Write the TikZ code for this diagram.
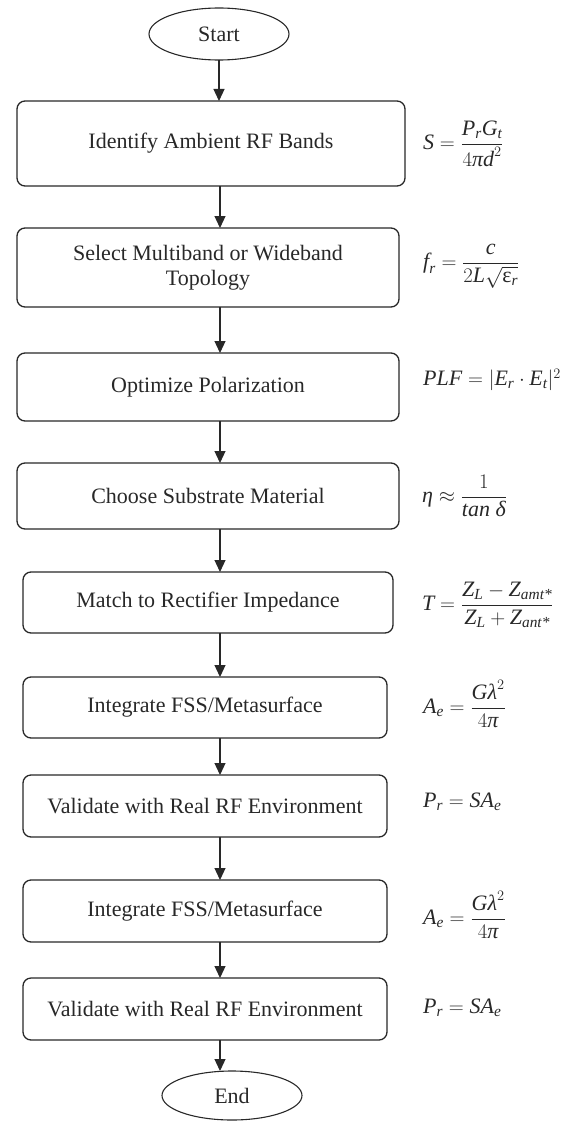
\documentclass[tikz,border=0pt]{standalone}
\usepackage{amsmath}
\usepackage{fontspec}
\setmainfont{Liberation Serif}
\usetikzlibrary{arrows.meta,shapes.geometric}
\definecolor{ink}{RGB}{40,40,40}
\newcommand{\vi}[1]{\textit{#1}}
\tikzset{
  stepbox/.style={draw=ink, line width=1.3pt, rounded corners=8pt, inner sep=0pt, outer sep=0pt,
    font=\fontsize{22}{25}\selectfont, text=ink, align=center},
  term/.style={draw=ink, line width=1.1pt, ellipse, inner sep=0pt, outer sep=0pt,
    font=\fontsize{22}{25}\selectfont, text=ink},
  formula/.style={anchor=west, inner sep=0pt, font=\fontsize{22}{25}\selectfont, text=ink},
  flow/.style={draw=ink, line width=1.2pt, -{Triangle[width=11pt,length=12pt]}}
}
\begin{document}
\begin{tikzpicture}[x=1pt,y=-1pt]
\useasboundingbox (0,0) rectangle (581,1121);
\node[term, minimum width=140pt, minimum height=52pt] (s) at (219,34) {Start};
\coordinate (ax) at (220,0);
\node[stepbox, minimum width=388pt, minimum height=85pt] (b1) at (211,143.5) {Identify Ambient RF Bands};
\node[stepbox, minimum width=382pt, minimum height=79pt] (b2) at (208,267.5) {Select Multiband or Wideband\\Topology};
\node[stepbox, minimum width=382pt, minimum height=68pt] (b3) at (208,387) {Optimize Polarization};
\node[stepbox, minimum width=382pt, minimum height=66pt] (b4) at (208,496) {Choose Substrate Material};
\node[stepbox, minimum width=370pt, minimum height=61pt] (b5) at (208,602.5) {Match to Rectifier Impedance};
\node[stepbox, minimum width=364pt, minimum height=61pt] (b6) at (205,707.5) {Integrate FSS/Metasurface};
\node[stepbox, minimum width=364pt, minimum height=62pt] (b7) at (205,806) {Validate with Real RF Environment};
\node[stepbox, minimum width=364pt, minimum height=62pt] (b8) at (205,911) {Integrate FSS/Metasurface};
\node[stepbox, minimum width=364pt, minimum height=62pt] (b9) at (205,1009) {Validate with Real RF Environment};
\node[term, minimum width=140pt, minimum height=49pt] (e) at (232,1095.5) {End};

\draw[flow] (s.south) -- (b1.north -| s.south);
\draw[flow] (b1.south -| ax) -- (b2.north -| ax);
\draw[flow] (b2.south -| ax) -- (b3.north -| ax);
\draw[flow] (b3.south -| ax) -- (b4.north -| ax);
\draw[flow] (b4.south -| ax) -- (b5.north -| ax);
\draw[flow] (b5.south -| ax) -- (b6.north -| ax);
\draw[flow] (b6.south -| ax) -- (b7.north -| ax);
\draw[flow] (b7.south -| ax) -- (b8.north -| ax);
\draw[flow] (b8.south -| ax) -- (b9.north -| ax);
\draw[flow] (b9.south -| ax) -- (e.north -| ax);

\node[formula] (f1) at (423,144) {$\displaystyle \vi{S}=\frac{\vi{P}_{\vi{r}}\vi{G}_{\vi{t}}}{4\vi{πd}^2}$};
\node[formula] (f2) at (423,266) {$\displaystyle \vi{f}_{\vi{r}}=\frac{\vi{c}\rule[-4pt]{0pt}{4pt}}{2\vi{L}\sqrt{\textup{ε}_{\vi{r}}}}$};
\node[formula] (f3) at (423,380) {$\vi{PLF}=|\vi{E}_{\vi{r}}\cdot\vi{E}_{\vi{t}}|^2$};
\node[formula] (f4) at (422,496) {$\displaystyle \vi{η}\approx\frac{1}{\vi{tan δ}}$};
\node[formula] (f5) at (422,605) {$\displaystyle \vi{T}=\frac{\vi{Z}_{\vi{L}}-\vi{Z}_{\vi{amt*}}}{\vi{Z}_{\vi{L}}+\vi{Z}_{\vi{ant*}}}$};
\node[formula] (f6) at (423,704) {$\displaystyle \vi{A}_{\vi{e}}=\frac{\vi{Gλ}^2}{4\vi{π}}$};
\node[formula] (f7) at (423,802) {$\vi{P}_{\vi{r}}=\vi{SA}_{\vi{e}}$};
\node[formula] (f8) at (423,915) {$\displaystyle \vi{A}_{\vi{e}}=\frac{\vi{Gλ}^2}{4\vi{π}}$};
\node[formula] (f9) at (423,1008) {$\vi{P}_{\vi{r}}=\vi{SA}_{\vi{e}}$};
\end{tikzpicture}
\end{document}
